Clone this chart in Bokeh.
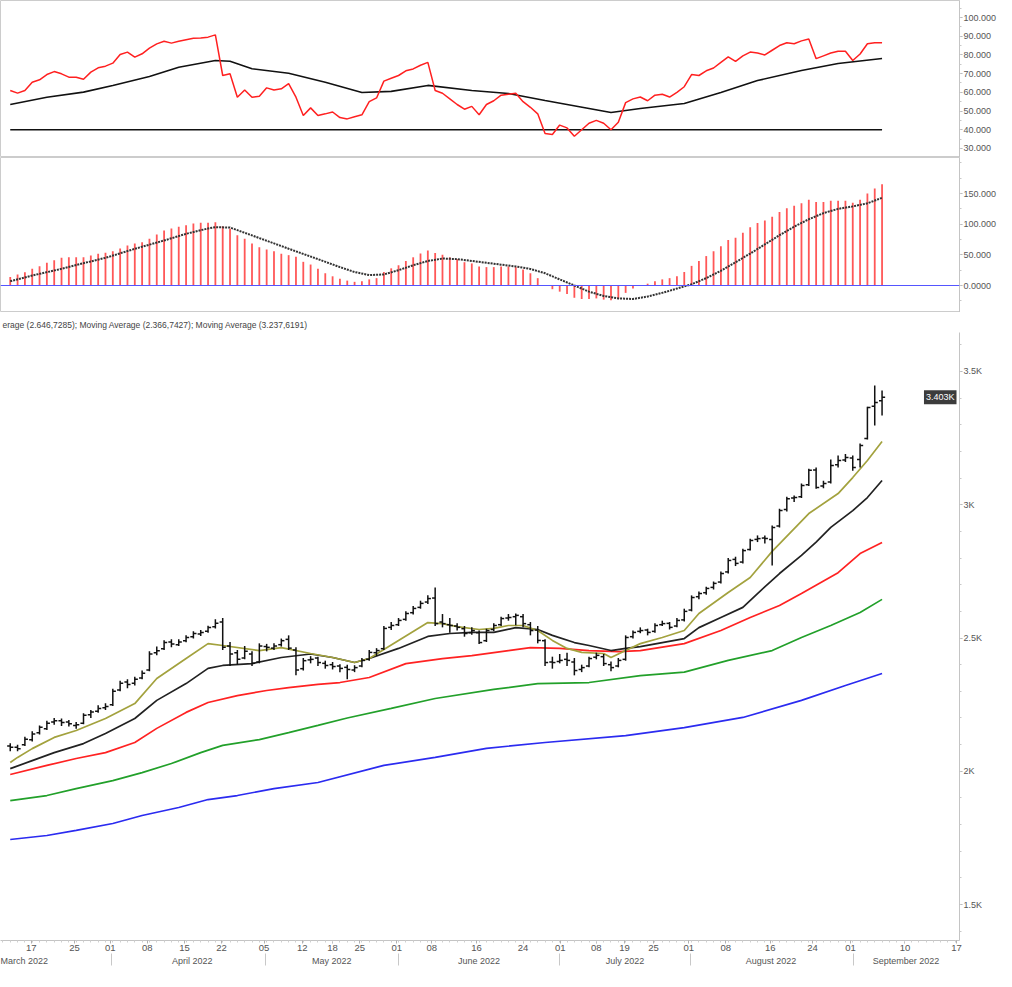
from bokeh.plotting import figure
from bokeh.layouts import column
from bokeh.models import (ColumnDataSource, FixedTicker, LinearAxis, Range1d, Span,
                          Label, NumeralTickFormatter)
from bokeh.embed import file_html
from bokeh.resources import INLINE

# ------------------------------------------------------------------ data
opens = [2095, 2090, 2100, 2118, 2145, 2160, 2185, 2190, 2185, 2172,
         2180, 2212, 2225, 2238, 2250, 2305, 2335, 2330, 2350, 2380,
         2445, 2460, 2485, 2475, 2490, 2505, 2515, 2525, 2542, 2560,
         2470, 2445, 2425, 2440, 2410, 2468, 2462, 2475, 2495, 2455,
         2385, 2418, 2425, 2405, 2400, 2395, 2390, 2380, 2395, 2420,
         2445, 2460, 2540, 2550, 2570, 2595, 2615, 2635, 2650, 2560,
         2550, 2545, 2535, 2520, 2520, 2490, 2532, 2550, 2575, 2580,
         2580, 2550, 2530, 2490, 2410, 2412, 2420, 2410, 2382, 2395,
         2428, 2430, 2400, 2395, 2420, 2505, 2525, 2530, 2525, 2550,
         2555, 2545, 2568, 2605, 2655, 2670, 2690, 2710, 2748, 2795,
         2785, 2832, 2870, 2875, 2870, 2920, 2982, 3025, 3030, 3075,
         3130, 3070, 3085, 3150, 3168, 3175, 3170, 3249, 3370, 3390]
highs = [2105, 2100, 2130, 2150, 2172, 2190, 2200, 2198, 2192, 2185,
         2218, 2230, 2248, 2255, 2310, 2340, 2345, 2355, 2378, 2450,
         2468, 2492, 2495, 2495, 2510, 2525, 2530, 2546, 2570, 2575,
         2485, 2455, 2470, 2450, 2480, 2478, 2480, 2498, 2510, 2465,
         2425, 2432, 2430, 2415, 2410, 2402, 2400, 2398, 2425, 2455,
         2462, 2545, 2560, 2575, 2600, 2620, 2640, 2660, 2690, 2590,
         2575, 2555, 2545, 2540, 2528, 2535, 2555, 2580, 2590, 2592,
         2590, 2560, 2545, 2495, 2430, 2440, 2445, 2425, 2400, 2430,
         2445, 2440, 2412, 2425, 2510, 2528, 2540, 2535, 2555, 2565,
         2560, 2575, 2610, 2660, 2675, 2692, 2712, 2750, 2800, 2805,
         2835, 2872, 2885, 2885, 2922, 2985, 3030, 3035, 3080, 3135,
         3140, 3090, 3170, 3185, 3190, 3185, 3230, 3368, 3447, 3429]
lows = [2075, 2075, 2095, 2112, 2138, 2155, 2175, 2170, 2168, 2160,
        2176, 2200, 2220, 2230, 2245, 2300, 2312, 2322, 2345, 2375,
        2435, 2455, 2465, 2470, 2484, 2498, 2508, 2520, 2536, 2455,
        2395, 2400, 2420, 2395, 2405, 2450, 2455, 2468, 2455, 2360,
        2378, 2405, 2395, 2385, 2382, 2372, 2345, 2372, 2390, 2415,
        2432, 2455, 2530, 2545, 2565, 2588, 2610, 2628, 2545, 2540,
        2520, 2528, 2505, 2512, 2478, 2485, 2525, 2545, 2565, 2548,
        2540, 2510, 2480, 2395, 2385, 2405, 2395, 2360, 2372, 2390,
        2420, 2395, 2375, 2390, 2415, 2498, 2518, 2510, 2520, 2545,
        2532, 2540, 2562, 2600, 2645, 2662, 2682, 2705, 2742, 2770,
        2780, 2828, 2860, 2855, 2772, 2915, 2975, 3010, 3025, 3070,
        3060, 3062, 3080, 3140, 3160, 3128, 3140, 3245, 3297, 3335]
closes = [2090, 2085, 2120, 2140, 2165, 2180, 2190, 2183, 2178, 2175,
          2210, 2222, 2236, 2243, 2300, 2330, 2326, 2345, 2368, 2440,
          2452, 2483, 2478, 2485, 2502, 2517, 2521, 2539, 2555, 2465,
          2440, 2420, 2450, 2405, 2470, 2465, 2470, 2490, 2462, 2380,
          2415, 2420, 2408, 2397, 2393, 2386, 2382, 2389, 2416, 2446,
          2453, 2536, 2547, 2566, 2592, 2611, 2630, 2648, 2554, 2554,
          2547, 2540, 2517, 2528, 2483, 2528, 2547, 2573, 2577, 2585,
          2554, 2528, 2491, 2408, 2408, 2416, 2416, 2378, 2389, 2423,
          2435, 2404, 2389, 2416, 2502, 2521, 2528, 2521, 2547, 2554,
          2540, 2566, 2600, 2652, 2667, 2686, 2705, 2742, 2791, 2780,
          2828, 2866, 2873, 2873, 2915, 2978, 3023, 3027, 3072, 3129,
          3065, 3080, 3147, 3166, 3177, 3140, 3222, 3365, 3384, 3403]

# moving averages (bar index, value)
ma_olive_idx = [0, 1, 3, 6, 9, 13, 17, 20, 24, 27, 29, 34, 37, 41, 44, 47, 49, 53, 57, 59,
                61, 64, 66, 68, 70, 72, 74, 76, 78, 81, 82, 84, 86, 89, 92, 94, 98, 101,
                104, 109, 113, 115, 117, 119]
ma_olive = [2033, 2052, 2085, 2127, 2153, 2198, 2254, 2348, 2423, 2479, 2472, 2453, 2464,
            2442, 2427, 2408, 2423, 2491, 2558, 2554, 2543, 2532, 2536, 2547, 2547, 2528,
            2491, 2461, 2446, 2442, 2427, 2453, 2479, 2502, 2528, 2592, 2671, 2727, 2825,
            2967, 3042, 3102, 3166, 3237]
ma_black_idx = [0, 3, 6, 10, 13, 17, 20, 24, 27, 29, 33, 37, 41, 44, 47, 49, 53, 57, 60, 63,
                66, 69, 72, 74, 77, 79, 82, 84, 86, 92, 94, 97, 100, 102, 105, 108, 110,
                112, 115, 117, 119]
ma_black = [2010, 2040, 2070, 2104, 2142, 2198, 2266, 2329, 2386, 2397, 2404, 2427, 2440,
            2427, 2408, 2423, 2461, 2506, 2517, 2521, 2521, 2539, 2532, 2510, 2483, 2472,
            2453, 2461, 2468, 2498, 2539, 2577, 2615, 2667, 2742, 2810, 2860, 2915, 2978,
            3027, 3091]
ma_red_idx = [0, 5, 9, 13, 17, 20, 24, 27, 31, 35, 38, 42, 45, 49, 54, 59, 63, 68, 71, 75,
              79, 83, 86, 92, 97, 101, 105, 108, 113, 116, 119]
ma_red = [1988, 2022, 2048, 2070, 2108, 2161, 2221, 2258, 2284, 2303, 2314, 2326, 2333,
          2352, 2404, 2423, 2434, 2453, 2464, 2461, 2453, 2449, 2453, 2479, 2528, 2577,
          2622, 2667, 2745, 2817, 2858]
ma_green_idx = [0, 5, 9, 14, 18, 22, 26, 29, 34, 38, 42, 46, 52, 58, 66, 72, 79, 86, 92, 98,
                104, 108, 112, 116, 119]
ma_green = [1890, 1909, 1935, 1965, 1995, 2029, 2070, 2097, 2119, 2145, 2172, 2200, 2236,
            2273, 2307, 2329, 2333, 2359, 2372, 2416, 2453, 2502, 2547, 2596, 2645]
ma_blue_idx = [0, 5, 9, 14, 18, 23, 27, 31, 36, 42, 51, 58, 65, 73, 84, 92, 100, 108, 114, 119]
ma_blue = [1744, 1759, 1778, 1804, 1834, 1864, 1894, 1909, 1935, 1958, 2022, 2052, 2086,
           2108, 2134, 2164, 2202, 2266, 2322, 2367]

# top oscillator
osc = [61.0, 59.6, 61.0, 65.4, 66.7, 69.5, 71.1, 69.9, 68.1, 68.1,
       67.0, 70.8, 73.1, 74.0, 75.6, 80.2, 81.5, 78.8, 80.6, 83.6,
       85.9, 87.3, 86.3, 87.3, 88.1, 88.9, 89.1, 89.5, 90.7, 69.0,
       69.9, 57.4, 61.3, 57.4, 57.9, 62.4, 61.3, 61.9, 64.6, 57.4,
       47.6, 51.7, 47.6, 48.5, 49.5, 46.5, 45.8, 47.0, 48.0, 55.0,
       57.0, 66.0, 67.5, 69.0, 71.5, 72.5, 74.5, 76.0, 61.0, 59.5,
       56.5, 53.5, 51.0, 52.5, 48.0, 53.5, 55.5, 58.5, 59.0, 59.5,
       55.0, 52.0, 48.5, 38.0, 37.5, 42.5, 41.0, 36.5, 40.0, 43.5,
       45.0, 43.5, 40.0, 44.0, 54.5, 56.5, 57.5, 55.5, 58.5, 59.0,
       57.5, 60.0, 63.0, 69.5, 69.0, 71.5, 73.0, 76.0, 79.0, 76.5,
       79.5, 81.5, 81.0, 80.0, 82.5, 85.0, 86.5, 86.0, 87.5, 88.5,
       78.0, 79.5, 81.0, 82.0, 82.0, 77.0, 80.5, 86.0, 86.5, 86.5]
osc_ma_idx = [0, 5, 10, 14, 19, 23, 28, 30, 33, 38, 43, 48, 52, 57, 63, 68, 73, 79, 82, 86,
              92, 97, 102, 108, 113, 119]
osc_ma = [53.5, 57.4, 60.1, 63.7, 68.5, 73.4, 77.0, 76.6, 72.6, 70.2, 65.4, 59.9, 60.5,
          63.7, 61.0, 59.4, 55.6, 51.4, 49.2, 51.4, 54.0, 59.9, 66.3, 71.7, 75.4, 78.1]
osc_level = 40

# middle histogram + signal
hist = [14.0, 17.9, 21.7, 27.2, 31.5, 37.0, 41.3, 45.1, 46.2, 46.2,
        46.2, 48.9, 51.6, 53.3, 56.0, 60.3, 65.2, 68.5, 70.7, 76.1,
        83.2, 89.7, 92.9, 95.6, 98.4, 101.1, 102.2, 102.2, 103.3, 96.7,
        92.4, 82.1, 76.1, 68.5, 62.5, 58.7, 56.0, 51.6, 49.5, 46.7,
        38.6, 34.2, 27.2, 20, 15, 11, 8, 6, 7, 10,
        12, 22, 28, 33, 40, 46, 52, 57, 53, 50,
        46, 43, 38, 36, 31, 30, 30, 31, 31, 30,
        26, 20, 12, 0, -6, -10, -14, -20, -22, -22,
        -21, -23, -24, -22, -12, -5, 0, 3, 7, 10,
        12, 15, 22, 32, 40, 48, 56, 64, 74, 78,
        86, 95, 102, 106, 112, 120, 126, 130, 134, 140,
        136, 136, 138, 138, 138, 135, 140, 150, 158, 165]
sig_idx = [0, 3, 7, 10, 13, 17, 21, 24, 27, 28, 30, 32, 35, 38, 42, 45, 47, 49, 51, 53, 55,
           57, 59, 61, 63, 65, 67, 69, 71, 73, 75, 77, 79, 81, 83, 85, 87, 89, 91, 93, 95,
           97, 99, 101, 103, 105, 107, 109, 111, 113, 115, 117, 119]
sig = [7.0, 16.3, 27.2, 36.4, 45.1, 59.8, 73.4, 84.3, 93.0, 95.1, 94.5, 86, 73, 60, 43, 30,
       22, 17, 18, 25, 33, 40, 44, 43, 40, 37, 34, 31, 27, 20, 10, 0, -10, -17, -21, -22,
       -18, -12, -5, 2, 12, 24, 38, 52, 67, 82, 96, 108, 118, 125, 129, 134, 143]

# axis ticks and labels
top_ticks = [30, 40, 50, 60, 70, 80, 90, 100]
mid_ticks = [0, 50, 100, 150]
main_ticks = [1500, 2000, 2500, 3000, 3500]
main_tick_labels = ["1.5K", "2K", "2.5K", "3K", "3.5K"]
day_ticks = [2.88, 8.77, 13.65, 18.70, 23.79, 28.84, 34.64, 39.87, 43.99, 47.71, 52.76,
             57.54, 63.65, 69.99, 75.08, 80.00, 83.85, 87.80, 92.62, 97.67, 103.75,
             109.50, 114.68, 122.13, 129.17]
day_labels = ["17", "25", "01", "08", "15", "22", "05", "12", "18", "25", "01", "08", "16",
              "24", "01", "08", "19", "25", "01", "08", "16", "24", "01", "10", "17"]
month_centers = [1.75, 24.85, 43.89, 63.99, 83.92, 103.85, 122.26]
month_labels = ["March 2022", "April 2022", "May 2022", "June 2022", "July 2022",
                "August 2022", "September 2022"]
month_bounds = [13.82, 34.82, 53.02, 74.95, 92.89, 115.08]
header_text = ("erage (2.646,7285); Moving Average (2.366,7427); "
               "Moving Average (3.237,6191)")

# ------------------------------------------------------------------ styling
FONT = "'Liberation Sans', Arial, sans-serif"
FW = 959
x_range = Range1d(-1.33, 129.57)
n = len(closes)
bars = list(range(n))


def make_fig(frame_h, y0, y1, xaxis=False, top=0):
    p = figure(frame_width=FW, frame_height=frame_h, x_range=x_range,
               y_range=Range1d(y0, y1), output_backend="svg", toolbar_location=None,
               y_axis_location="right", x_axis_location="below" if xaxis else None,
               min_border_left=0, min_border_right=0, min_border_top=top,
               min_border_bottom=0, background_fill_color="white",
               border_fill_color="white")
    p.grid.grid_line_color = None
    p.outline_line_color = "#cccccc"
    ax = p.yaxis[0]
    ax.axis_line_color = "#c4c4c4"
    ax.major_tick_line_color = "#b0b0b0"
    ax.minor_tick_line_color = "#c8c8c8"
    ax.major_tick_out = 3
    ax.major_tick_in = 0
    ax.minor_tick_out = 2
    ax.minor_tick_in = 0
    ax.major_label_standoff = 1
    ax.major_label_text_font = FONT
    ax.major_label_text_font_size = "9px"
    ax.major_label_text_color = "#555555"
    return p


# ---- top panel
p1 = make_fig(157, 25.17, 109.09)
p1.yaxis[0].ticker = FixedTicker(ticks=top_ticks,
                                 minor_ticks=list(range(25, 110, 5)))
p1.yaxis[0].formatter = NumeralTickFormatter(format="0.000")
p1.line(x=[bars[0], bars[-1]], y=[osc_level, osc_level], line_color="#111111", line_width=1.6)
p1.line(x=osc_ma_idx, y=osc_ma, line_color="#111111", line_width=1.6)
p1.line(x=bars, y=osc, line_color="#ff2020", line_width=1.5)

# ---- middle panel
p2 = make_fig(155, -44.0, 208.7)
p2.yaxis[0].ticker = FixedTicker(ticks=mid_ticks,
                                 minor_ticks=list(range(-25, 201, 25)))
p2.yaxis[0].formatter = NumeralTickFormatter(format="0.000")
p2.yaxis[0].major_label_overrides = {0: "0.0000"}
p2.add_layout(Span(location=0, dimension="width", line_color="#5555ff", line_width=1.2))
src_h = ColumnDataSource(dict(x=bars, y0=[0] * n, y1=hist))
p2.segment(x0="x", y0="y0", x1="x", y1="y1", source=src_h, line_color="#ff3a3a",
           line_width=1.8, line_alpha=0.85)
p2.line(x=sig_idx, y=sig, line_color="#333333", line_width=2, line_dash="2 1")

# ---- main panel
p3 = make_fig(608, 1365.1, 3646.3, xaxis=True, top=20)
p3.outline_line_color = None
p3.yaxis[0].ticker = FixedTicker(ticks=main_ticks,
                                 minor_ticks=list(range(1400, 3700, 100)))
p3.yaxis[0].major_label_overrides = dict(zip(main_ticks, main_tick_labels))
p3.title.text = header_text
p3.title.text_font = FONT
p3.title.text_font_size = "8.5px"
p3.title.text_font_style = "normal"
p3.title.text_color = "#444444"
p3.title.align = "left"
p3.title.offset = 2
p3.title.standoff = 5

# moving averages
p3.line(x=ma_blue_idx, y=ma_blue, line_color="#2b2bf0", line_width=1.7)
p3.line(x=ma_green_idx, y=ma_green, line_color="#22a02a", line_width=1.7)
p3.line(x=ma_red_idx, y=ma_red, line_color="#ff2222", line_width=1.7)
p3.line(x=ma_black_idx, y=ma_black, line_color="#222222", line_width=1.7)
p3.line(x=ma_olive_idx, y=ma_olive, line_color="#a3a23e", line_width=1.7)

# OHLC bars
half = 0.42
src = ColumnDataSource(dict(x=bars, xl=[b - half for b in bars], xr=[b + half for b in bars],
                            o=opens, h=highs, l=lows, c=closes))
p3.segment(x0="x", y0="l", x1="x", y1="h", source=src, line_color="#111111", line_width=1.5)
p3.segment(x0="xl", y0="o", x1="x", y1="o", source=src, line_color="#111111", line_width=1.5)
p3.segment(x0="x", y0="c", x1="xr", y1="c", source=src, line_color="#111111", line_width=1.5)

# last price badge (inside the frame, against the price axis)
p3.add_layout(Label(x=x_range.end, y=closes[-1], x_offset=-3,
                    text=f"{closes[-1] / 1000:.3f}K",
                    text_font=FONT, text_font_size="9px", text_color="white",
                    text_baseline="middle", text_align="right",
                    background_fill_color="#3c3c3c", padding=2))

# x axes: day numbers + months
xa = p3.xaxis[0]
xa.ticker = FixedTicker(ticks=day_ticks, minor_ticks=list(range(-1, 130)))
xa.major_label_overrides = dict(zip(day_ticks, day_labels))
xa.axis_line_color = "#c4c4c4"
xa.major_tick_line_color = "#b0b0b0"
xa.minor_tick_line_color = "#d0d0d0"
xa.major_tick_out = 3
xa.major_tick_in = 0
xa.minor_tick_out = 2
xa.minor_tick_in = 0
xa.major_label_standoff = 1
xa.major_label_text_font = FONT
xa.major_label_text_font_size = "9.5px"
xa.major_label_text_color = "#555555"

ma = LinearAxis(ticker=FixedTicker(ticks=month_centers, minor_ticks=month_bounds),
                major_label_overrides=dict(zip(month_centers, month_labels)))
ma.axis_line_color = None
ma.major_tick_line_color = None
ma.major_tick_out = 0
ma.major_tick_in = 0
ma.minor_tick_out = 12
ma.minor_tick_in = 0
ma.minor_tick_line_color = "#c8c8c8"
ma.major_label_standoff = -10
ma.major_label_text_font = FONT
ma.major_label_text_font_size = "9px"
ma.major_label_text_color = "#555555"
p3.add_layout(ma, "below")

layout = column(p1, p2, p3, spacing=0)
open("out.html", "w").write(file_html(layout, INLINE))
